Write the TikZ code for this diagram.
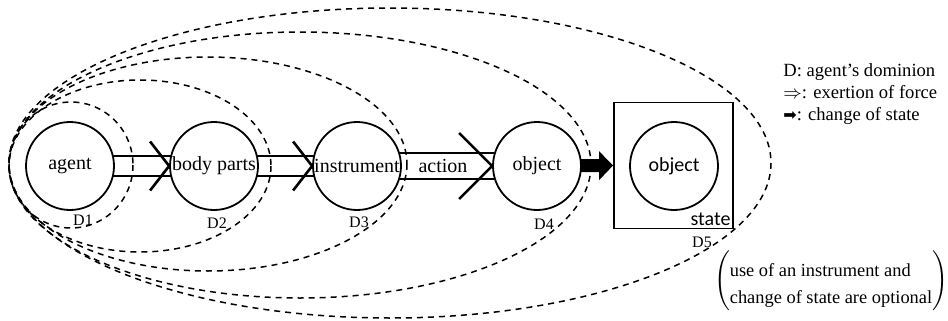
\documentclass[tikz,border=0pt]{standalone}
\usepackage{fontspec}
\setmainfont{Liberation Serif}
\newfontfamily\boxfont{Carlito}
\newfontfamily\symfont{DejaVu Sans}
\usetikzlibrary{arrows.meta,backgrounds}

\tikzset{
  stage/.style={draw, circle, line width=0.9pt, fill=white, minimum size=44pt, inner sep=0pt},
  force/.style={double, line width=1pt, double distance=9pt},
  chevron/.style={line width=1.3pt},
  statechange/.style={line width=6.5pt, -{Triangle[length=7pt,width=14pt]}},
  dominion/.style={line width=0.75pt, dash pattern=on 3pt off 2.5pt},
  dlabel/.style={font=\footnotesize, inner sep=1pt}
}

\begin{document}
\begin{tikzpicture}[x=0.5pt, y=-0.5pt]
  \useasboundingbox (0,0) rectangle (948,321);

  % participants
  \node[stage] (agent) at (70,166) {agent};
  \node[stage] (parts) at (214,166) {body parts};
  \node[stage] (instr) at (357,166) {instrument};
  \node[stage] (obj) at (537,166) {object};

  % resulting state
  \node[draw, line width=0.9pt, minimum width=59.5pt, minimum height=63pt] (statebox) at (673.5,165.5) {};
  \node[stage, font=\boxfont] (newobj) at (674,166) {object};
  \node[anchor=south east, inner sep=1.5pt, font=\boxfont] (statelbl) at (statebox.south east) {state};

  % force and change of state
  \begin{scope}[on background layer]
    \draw[force] (agent.center) -- (parts.center);
    \draw[force] (parts.center) -- (instr.center);
    \draw[force, double distance=12pt] (instr.center) -- (obj.center)
      node[midway, xshift=-2pt] (act) {action};
    \draw[statechange] (obj.center) -- (statebox.west);
  \end{scope}
  \draw[chevron] (parts.west) ++(-19,-24.5) -- (parts.west) -- ++(-19,24.5);
  \draw[chevron] (instr.west) ++(-19,-24.5) -- (instr.west) -- ++(-19,24.5);
  \draw[chevron] (obj.west) ++(-33,-33) -- (obj.west) -- ++(-33,33);

  % dominions
  \draw[dominion] (71,165) ellipse [x radius=62, y radius=63];
  \draw[dominion] (140,166) ellipse [x radius=131, y radius=86];
  \draw[dominion] (208,164) ellipse [x radius=199, y radius=107];
  \draw[dominion] (300,165) ellipse [x radius=291, y radius=133];
  \draw[dominion] (390,163) ellipse [x radius=381, y radius=155];
  \node[dlabel] (d1) at (83,220) {D1};
  \node[dlabel] (d2) at (217,223) {D2};
  \node[dlabel] (d3) at (359,222) {D3};
  \node[dlabel] (d4) at (544,224) {D4};
  \node[dlabel] (d5) at (702,242) {D5};

  % legend
  \node[anchor=west, align=left, inner sep=0pt, font=\fontsize{9.3}{11}\selectfont] (legend) at (783,94)
    {D: agent's dominion\\$\Rightarrow$: exertion of force\\{\symfont\footnotesize ➡}: change of state};
  \node[inner sep=0pt, font=\fontsize{9.2}{13.5}\selectfont] (note) at (831,281)
    {$\Bigg(\raisebox{-2pt}{\begin{tabular}{@{}l@{}}use of an instrument and\\change of state are optional\end{tabular}}\Bigg)$};
\end{tikzpicture}
\end{document}
